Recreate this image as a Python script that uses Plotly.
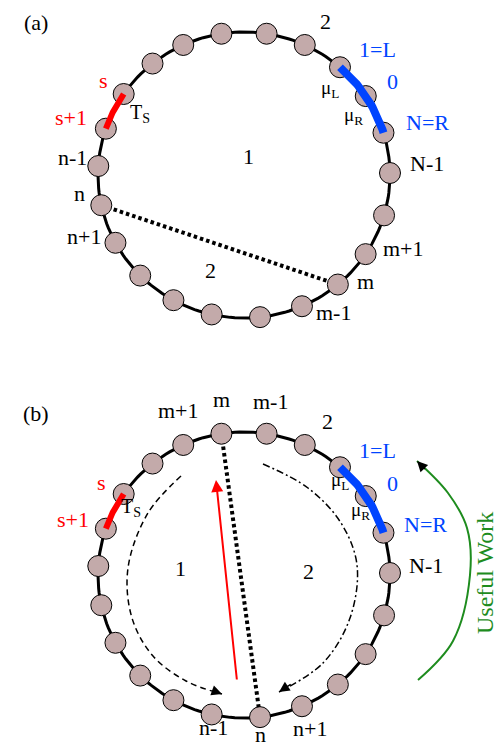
import math
import plotly.graph_objects as go

# ---------------- data ----------------
NODE_ANGLES = [145.5, 161.1, 176.4, 192.2, 208.3, 224.7, 241.1, 257.2, 276.3, 293.4, 310.0,
               326.4, 343.6, 0.8, 17.2, 33.5, 48.9, 65.4, 81.1, 98.9, 114.6, 128.8]
RED_ARC = (0, 1)      # s -> s+1
BLUE_ARC = (16, 14)   # 1=L -> N=R
CHORD_A = (3, 10)     # n -- m in panel (a)
CHORD_B = (19, 8)     # m -- n in panel (b)

LABELS_A_TEXT = ["s", "s+1", "T<sub>S</sub>", "n-1", "n", "n+1", "1", "2", "2",
                 "1=L", "0", "N=R", "μ<sub>L</sub>", "μ<sub>R</sub>", "N-1", "m+1", "m", "m-1"]
LABELS_A_X = [95, 63, 132, 64, 71, 76, 240, 202, 317, 369, 384, 419, 322, 345, 419, 395, 357, 325]
LABELS_A_Y = [81, 118, 114, 158, 194, 237, 157, 271, 22, 50, 82, 123, 90, 117, 164, 249, 282, 313]
LABELS_A_COLOR = ["r", "r", "k", "k", "k", "k", "k", "k", "k", "b", "b", "b", "k", "k", "k", "k", "k", "k"]

LABELS_B_TEXT = ["(b)", "m+1", "m", "m-1", "2", "1=L", "0", "N=R", "μ<sub>L</sub>", "μ<sub>R</sub>",
                 "N-1", "2", "n+1", "n", "n-1", "s", "s+1", "T<sub>S</sub>", "1"]
LABELS_B_X = [28, 170, 213, 262, 319, 369, 384, 417, 332, 352, 418, 300, 302, 252, 205, 93, 65, 123, 172]
LABELS_B_Y = [414, 411, 400, 402, 422, 451, 484, 525, 482, 512, 566, 572, 729, 735, 728, 483, 520, 508, 569]
LABELS_B_COLOR = ["k", "k", "k", "k", "k", "b", "b", "b", "k", "k", "k", "k", "k", "k", "k", "r", "r", "k", "k"]

DASH_CURVE_X = [173, 140, 120, 124, 145, 178, 214]
DASH_CURVE_Y = [468, 505, 560, 610, 648, 673, 686]
DASHDOT_CURVE_X = [255, 300, 333, 349, 342, 315, 271]
DASHDOT_CURVE_Y = [456, 480, 515, 557, 610, 655, 684]
GREEN_CURVE_X = [410, 445, 462, 459, 440, 409]
GREEN_CURVE_Y = [672, 633, 567, 520, 485, 453]
RED_ARROW_X = [229, 208]
RED_ARROW_Y = [673, 472]

# ---------------- geometry / style ----------------
CX, RX, RY = 236, 146, 143
CY_A, CY_B = 167, 567
TEXT_SHIFT = -9
SERIF = "Liberation Serif, Times New Roman, Times, serif"
COLORS = {"k": "black", "r": "#FF0000", "b": "#0044FF"}
NODE_FILL = "#C3AAAA"
GREEN = "#1E8C1E"


def pt(angle, cy):
    a = math.radians(angle)
    return CX + RX * math.cos(a), cy - RY * math.sin(a)


def arc(a0, a1, cy, n=40):
    xs, ys = [], []
    for i in range(n + 1):
        a = a0 + (a1 - a0) * i / n
        x, y = pt(a, cy)
        xs.append(x)
        ys.append(y)
    return xs, ys


fig = go.Figure()

for cy, chord, labels in [(CY_A, CHORD_A, (LABELS_A_TEXT, LABELS_A_X, LABELS_A_Y, LABELS_A_COLOR)),
                          (CY_B, CHORD_B, (LABELS_B_TEXT, LABELS_B_X, LABELS_B_Y, LABELS_B_COLOR))]:
    rx, ry = arc(0, 360, cy, 200)
    fig.add_trace(go.Scatter(x=rx, y=ry, mode="lines", line=dict(color="black", width=3),
                             hoverinfo="skip"))
    p0 = pt(NODE_ANGLES[chord[0]], cy)
    p1 = pt(NODE_ANGLES[chord[1]], cy)
    fig.add_trace(go.Scatter(x=[p0[0], p1[0]], y=[p0[1], p1[1]], mode="lines",
                             line=dict(color="black", width=4, dash="3.5px,3px"), hoverinfo="skip"))
    nx = [pt(a, cy)[0] for a in NODE_ANGLES]
    ny = [pt(a, cy)[1] for a in NODE_ANGLES]
    fig.add_trace(go.Scatter(x=nx, y=ny, mode="markers",
                             marker=dict(size=21, color=NODE_FILL, line=dict(color="black", width=1)),
                             hoverinfo="skip"))
    ax_, ay_ = arc(NODE_ANGLES[RED_ARC[0]], NODE_ANGLES[RED_ARC[1]], cy)
    fig.add_trace(go.Scatter(x=ax_, y=ay_, mode="lines", line=dict(color="#FF0000", width=6),
                             hoverinfo="skip"))
    bx_, by_ = arc(NODE_ANGLES[BLUE_ARC[0]], NODE_ANGLES[BLUE_ARC[1]], cy)
    fig.add_trace(go.Scatter(x=bx_, y=by_, mode="lines", line=dict(color="#0044FF", width=8),
                             hoverinfo="skip"))
    texts, xs, ys, cols = labels
    for t, x, y, c in zip(texts, xs, ys, cols):
        size = 22
        if t.startswith("μ"):
            size = 19
        if t.startswith("T"):
            size = 20
        fig.add_annotation(x=x, y=y + TEXT_SHIFT, text=t, showarrow=False, xanchor="center",
                           yanchor="middle", font=dict(family=SERIF, size=size, color=COLORS[c]))

# panel label (a), anchored to the top edge
fig.add_annotation(x=28, y=0, text="(a)", showarrow=False, xanchor="center", yanchor="top",
                   font=dict(family=SERIF, size=22, color="black"))

fig.add_trace(go.Scatter(x=DASH_CURVE_X, y=DASH_CURVE_Y, mode="lines",
                         line=dict(color="black", width=1.5, dash="6px,4px", shape="spline"),
                         hoverinfo="skip"))
fig.add_trace(go.Scatter(x=DASHDOT_CURVE_X, y=DASHDOT_CURVE_Y, mode="lines",
                         line=dict(color="black", width=1.5, dash="7px,3px,2px,3px", shape="spline"),
                         hoverinfo="skip"))
fig.add_trace(go.Scatter(x=GREEN_CURVE_X, y=GREEN_CURVE_Y, mode="lines",
                         line=dict(color=GREEN, width=2, shape="spline"), hoverinfo="skip"))


def head(xs, ys, color, width):
    fig.add_annotation(x=xs[-1], y=ys[-1], ax=xs[-2] + (xs[-1] - xs[-2]) * 0.7,
                       ay=ys[-2] + (ys[-1] - ys[-2]) * 0.7, xref="x", yref="y", axref="x", ayref="y",
                       showarrow=True, arrowhead=2, arrowsize=1.4, arrowwidth=width, arrowcolor=color,
                       text="")


head(DASH_CURVE_X, DASH_CURVE_Y, "black", 1.5)
head(DASHDOT_CURVE_X, DASHDOT_CURVE_Y, "black", 1.5)
head(GREEN_CURVE_X, GREEN_CURVE_Y, "black", 1.5)
fig.add_annotation(x=RED_ARROW_X[1], y=RED_ARROW_Y[1], ax=RED_ARROW_X[0], ay=RED_ARROW_Y[0],
                   xref="x", yref="y", axref="x", ayref="y", showarrow=True, arrowhead=2,
                   arrowsize=1.2, arrowwidth=2, arrowcolor="#FF0000", text="")

fig.add_annotation(x=477, y=565, text="Useful Work", showarrow=False, textangle=-90,
                   font=dict(family=SERIF, size=24, color=GREEN))

fig.update_layout(width=504, height=747, margin=dict(l=0, r=0, t=0, b=0),
                  plot_bgcolor="white", paper_bgcolor="white", showlegend=False,
                  xaxis=dict(range=[0, 504], visible=False, fixedrange=True),
                  yaxis=dict(range=[747, 0], visible=False, fixedrange=True))

fig.write_html("out.html")
